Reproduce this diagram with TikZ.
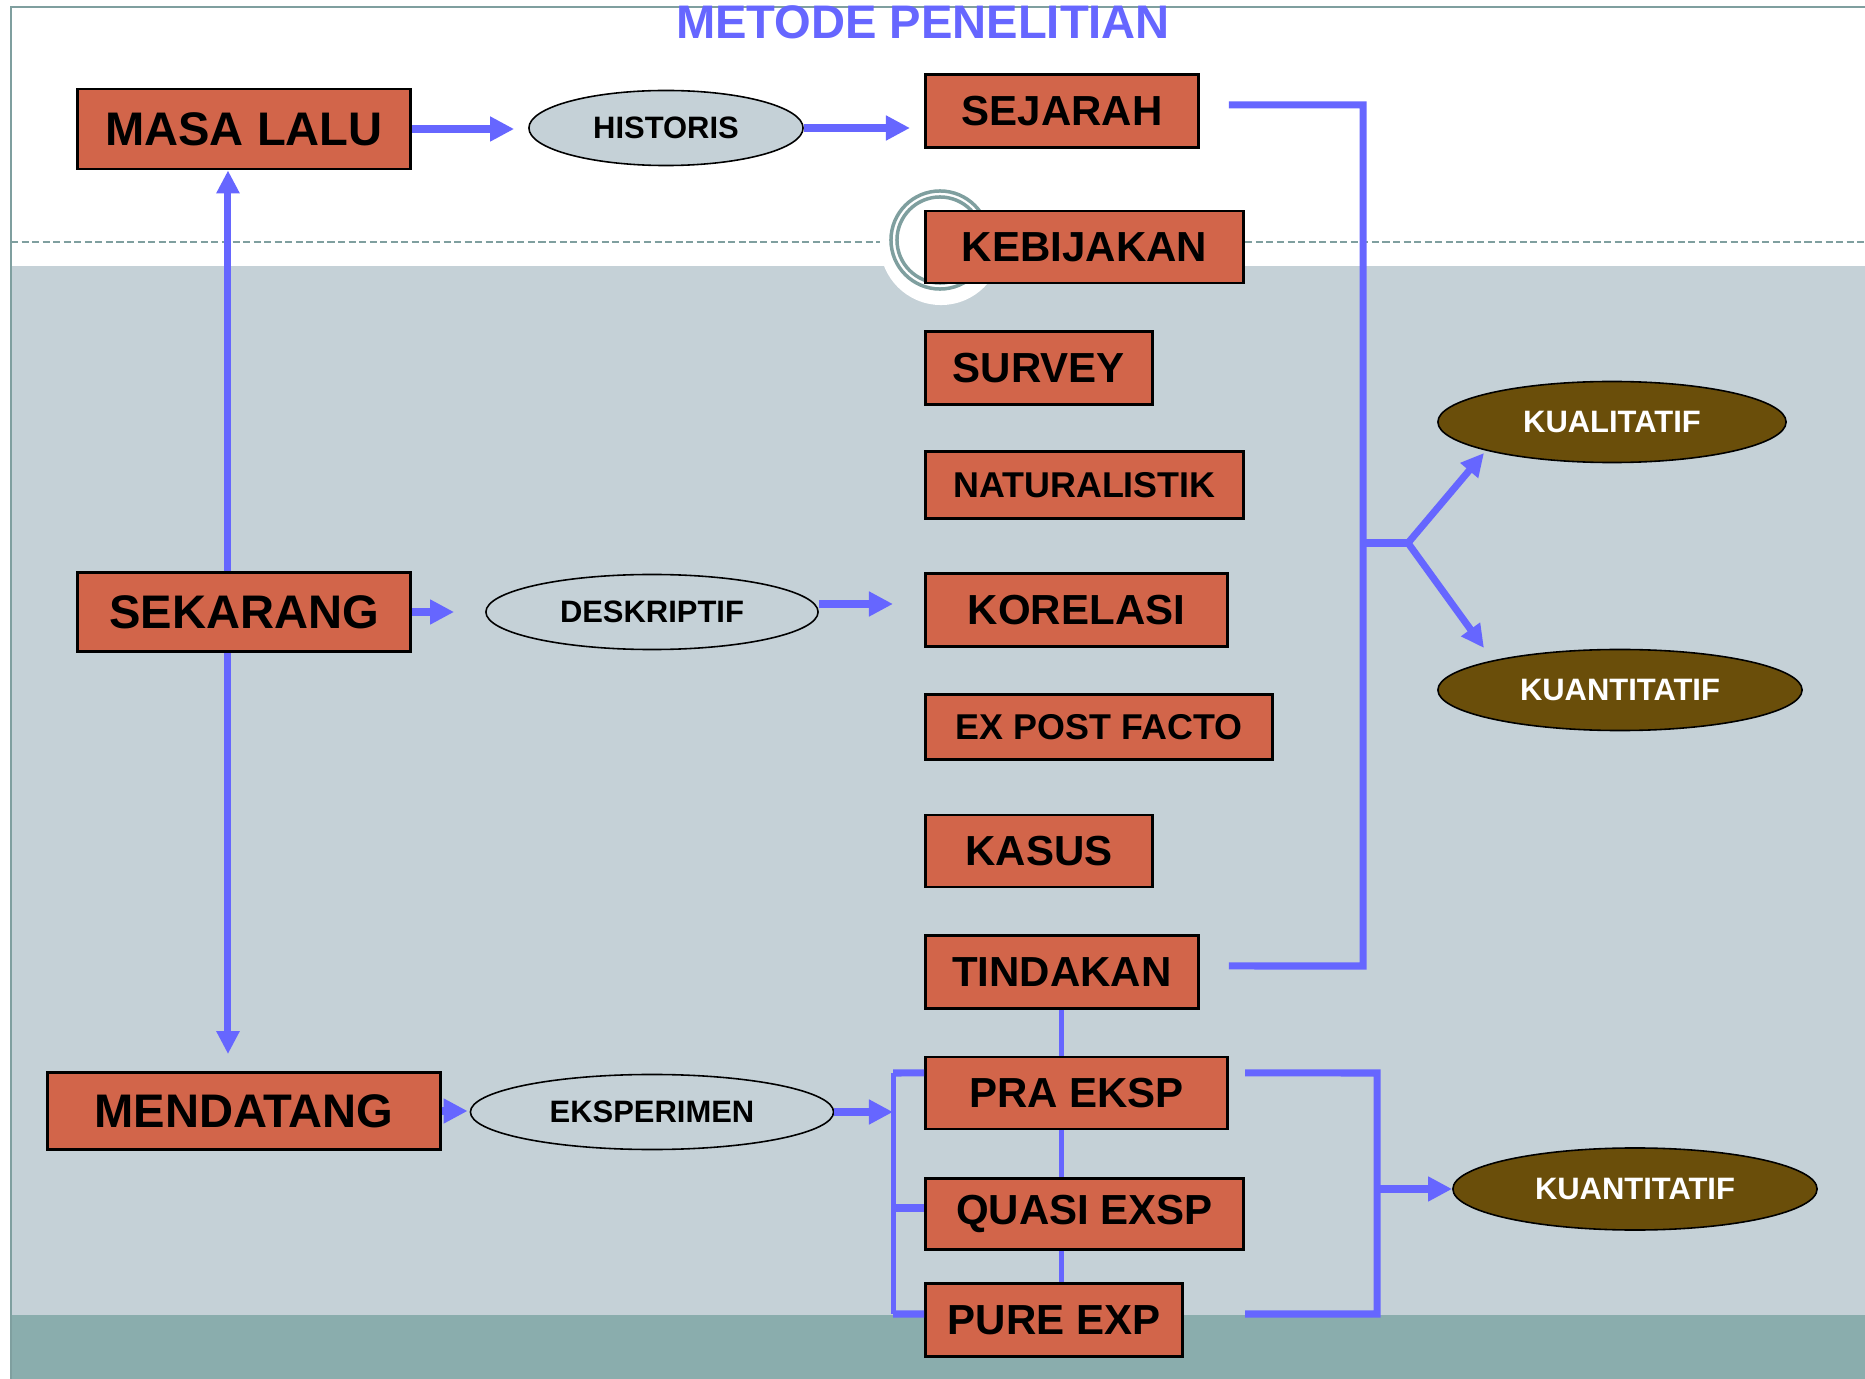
\documentclass[tikz,border=0pt]{standalone}
\usepackage{fontspec}
\setmainfont{Liberation Sans}
\usetikzlibrary{shapes.geometric, arrows.meta}
\definecolor{biru}{HTML}{6666FF}
\definecolor{kotak}{HTML}{D2654A}
\definecolor{abu}{HTML}{C5D1D7}
\definecolor{hijau}{HTML}{8AADAD}
\definecolor{bingkai}{HTML}{7F9F9F}
\definecolor{coklat}{HTML}{6A4E0A}
\tikzset{
	metode/.style = {draw = black, line width = 0.8pt, fill = kotak, inner sep = 0pt, anchor = west,
		font = \bfseries\fontsize{11.95}{12}\selectfont},
	metodekecil/.style = {metode, font = \bfseries\fontsize{10.2}{11}\selectfont},
	waktu/.style = {metode, anchor = center, font = \bfseries\fontsize{13.4}{14}\selectfont},
	pendekatan/.style = {ellipse, draw = black, line width = 0.45pt, fill = abu, inner sep = 0pt,
		font = \bfseries\fontsize{8.8}{9}\selectfont},
	hasil/.style = {pendekatan, fill = coklat, text = white},
	panah/.style = {draw = biru, line width = 0.085cm, -{Triangle[length = 0.24cm, width = 0.235cm]}},
	panahtipis/.style = {panah, line width = 0.07cm, -{Triangle[length = 0.23cm, width = 0.22cm]}},
	garis/.style = {draw = biru, line width = 0.07cm},
	sambung/.style = {draw = biru, line width = 0.05cm}
}
\begin{document}
\begin{tikzpicture}[x = 0.01cm, y = -0.01cm]
	\useasboundingbox ( 0, 0 ) rectangle ( 1865, 1379 );
	\fill [white] ( 0, 0 ) rectangle ( 1865, 1379 );
	\fill [abu] ( 11, 266 ) rectangle ( 1865, 1315 );
	\fill [hijau] ( 11, 1315 ) rectangle ( 1865, 1379 );
	\draw [bingkai, line width = 0.6pt, dash pattern = on 2pt off 1pt] ( 11, 242 ) -- ( 1865, 242 );
	\fill [white] ( 941, 244 ) circle ( 0.61cm );
	\draw [bingkai, line width = 0.035cm] ( 940, 240 ) circle ( 0.49cm ) circle ( 0.43cm );
	\draw [bingkai, line width = 0.025cm] ( 11, 1379 ) -- ( 11, 7 ) -- ( 1865, 7 );
	\node [text = biru, font = \bfseries\fontsize{13.4}{14}\selectfont] (judul) at ( 923, 22 ) {METODE PENELITIAN};

	\node [waktu, minimum width = 3.33cm, minimum height = 0.80cm] (masa) at ( 244, 129 ) {MASA LALU};
	\node [waktu, minimum width = 3.33cm, minimum height = 0.79cm] (sekarang) at ( 244, 612 ) {SEKARANG};
	\node [waktu, minimum width = 3.92cm, minimum height = 0.77cm] (mendatang) at ( 244, 1111 ) {MENDATANG};

	\node [pendekatan, minimum width = 2.74cm, minimum height = 0.75cm] (historis) at ( 666, 128 ) {HISTORIS};
	\node [pendekatan, minimum width = 3.32cm, minimum height = 0.75cm] (deskriptif) at ( 652, 612 ) {DESKRIPTIF};
	\node [pendekatan, minimum width = 3.63cm, minimum height = 0.75cm] (eksperimen) at ( 652, 1112 ) {EKSPERIMEN};

	\node [metode, minimum width = 2.73cm, minimum height = 0.73cm] (sejarah) at ( 924, 111 ) {SEJARAH};
	\node [metode, minimum width = 3.18cm, minimum height = 0.72cm] (kebijakan) at ( 924, 247 ) {KEBIJAKAN};
	\node [metode, minimum width = 2.27cm, minimum height = 0.73cm] (survey) at ( 924, 368 ) {SURVEY};
	\node [metodekecil, minimum width = 3.18cm, minimum height = 0.67cm] (naturalistik) at ( 924, 485 ) {NATURALISTIK};
	\node [metode, minimum width = 3.02cm, minimum height = 0.73cm] (korelasi) at ( 924, 610 ) {KORELASI};
	\node [metodekecil, minimum width = 3.47cm, minimum height = 0.65cm] (expost) at ( 924, 727 ) {EX POST FACTO};
	\node [metode, minimum width = 2.27cm, minimum height = 0.72cm] (kasus) at ( 924, 851 ) {KASUS};
	\node [metode, minimum width = 2.73cm, minimum height = 0.73cm] (tindakan) at ( 924, 972 ) {TINDAKAN};
	\node [metode, minimum width = 3.02cm, minimum height = 0.72cm] (pra) at ( 924, 1093 ) {PRA EKSP};
	\node [metode, minimum width = 3.18cm, minimum height = 0.71cm] (quasi) at ( 924, 1214 ) {QUASI EXSP};
	\node [metode, minimum width = 2.57cm, minimum height = 0.73cm] (pure) at ( 924, 1320 ) {PURE EXP};

	\node [hasil, minimum width = 3.48cm, minimum height = 0.81cm] (kualitatif) at ( 1612, 422 ) {KUALITATIF};
	\node [hasil, minimum width = 3.64cm, minimum height = 0.81cm] (kuantitatif) at ( 1620, 690 ) {KUANTITATIF};
	\node [hasil, minimum width = 3.64cm, minimum height = 0.82cm] (kuantitatifdua) at ( 1635, 1189 ) {KUANTITATIF};

	\draw [panah, shorten > = 0.14cm] (masa.east) -- (masa.east -| historis.west);
	\draw [panah, shorten > = 0.14cm] (historis.east) -- (historis.east -| sejarah.west);
	\draw [panah, shorten > = 0.31cm] (sekarang.east) -- (sekarang.east -| deskriptif.west);
	\draw [panah, shorten > = 0.31cm] ([yshift = 0.08cm]deskriptif.east) -- ([yshift = 0.08cm]deskriptif.east -| korelasi.west);
	\draw [panah, shorten > = 0.02cm] (mendatang.east) -- (mendatang.east -| eksperimen.west);
	\draw [panahtipis] ([xshift = -0.16cm]sekarang.north) -- ([xshift = -0.16cm]masa.south);
	\draw [panahtipis, shorten > = 0.17cm] ([xshift = -0.16cm]sekarang.south) -- ([xshift = -0.16cm]mendatang.north);

	\coordinate (kiriatas) at ( 893, 1073 );
	\coordinate (kiribawah) at ( 893, 1314 );
	\draw [panah] (eksperimen.east) -- (eksperimen.east -| kiriatas);
	\draw [sambung] (kiriatas) -- (kiribawah);
	\draw [garis] (kiriatas) -- ([yshift = 0.20cm]pra.west);
	\draw [garis] ([yshift = 0.06cm]quasi.west -| kiriatas) -- ([yshift = 0.06cm]quasi.west);
	\draw [garis] (kiribawah) -- ([yshift = 0.06cm]pure.west);
	\draw [sambung] (tindakan.south) -- (tindakan.south |- pra.north);
	\draw [sambung] (tindakan.south |- pra.south) -- (tindakan.south |- quasi.north);
	\draw [sambung] (tindakan.south |- quasi.south) -- (tindakan.south |- pure.north);

	\coordinate (kananatas) at ( 1363, 105 );
	\coordinate (kananbawah) at ( 1363, 966 );
	\coordinate (cabang) at ( 1408, 543 );
	\coordinate (ujungatas) at ( 1484, 453 );
	\coordinate (ujungbawah) at ( 1484, 648 );
	\draw [garis] ([xshift = 0.29cm, yshift = 0.06cm]sejarah.east) -- (kananatas) -- (kananbawah) -- ([xshift = 0.29cm, yshift = 0.06cm]tindakan.east);
	\draw [garis] (kananatas |- cabang) -- (cabang);
	\draw [panahtipis] (cabang) -- (ujungatas);
	\draw [panahtipis] (cabang) -- (ujungbawah);

	\coordinate (kananduaatas) at ( 1377, 1073 );
	\coordinate (kananduabawah) at ( 1377, 1314 );
	\draw [garis] ([xshift = 0.16cm, yshift = 0.20cm]pra.east) -- (kananduaatas) -- (kananduabawah) -- ([xshift = 0.61cm, yshift = 0.06cm]pure.east);
	\draw [panah] (kananduaatas |- kuantitatifdua.west) -- (kuantitatifdua.west);
\end{tikzpicture}
\end{document}
